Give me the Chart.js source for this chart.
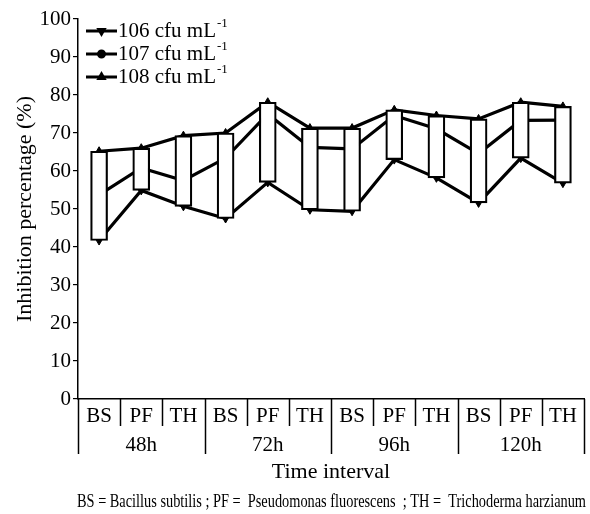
<!DOCTYPE html>
<html>
<head>
<meta charset="utf-8">
<script src="https://cdn.jsdelivr.net/npm/chart.js@4.4.0/dist/chart.umd.min.js"></script>
<style>
    html, body { margin: 0; padding: 0; background: #fff; }
</style>
</head>
<body>
<canvas id="chart" width="590" height="514"></canvas>
<script>
var categories = ["BS", "PF", "TH", "BS", "PF", "TH", "BS", "PF", "TH", "BS", "PF", "TH"];
var groups = ["48h", "72h", "96h", "120h"];
var seriesNames = ["106 cfu mL", "107 cfu mL", "108 cfu mL"];
var yTicks = [0, 10, 20, 30, 40, 50, 60, 70, 80, 90, 100];

// values
var s106 = [41.7, 54.9, 50.7, 47.5, 57.0, 49.8, 49.4, 63.0, 58.2, 51.6, 63.4, 56.8];
var s107 = [53.7, 60.8, 57.5, 63.4, 75.0, 66.2, 65.8, 74.6, 71.1, 64.6, 73.3, 73.4];
var s108 = [65.2, 66.0, 69.3, 70.0, 78.1, 71.3, 71.3, 76.1, 74.6, 73.7, 78.1, 77.0];

var FONT = "'Liberation Serif', 'Times New Roman', serif";

// up-down boxes between first and last series
var boxes = categories.map(function (c, i) {
    return [s106[i], s108[i]];
});

var markers = [
    { pointStyle: 'triangle', rotation: 180, radius: 4.5 },
    { pointStyle: 'circle', rotation: 0, radius: 3 },
    { pointStyle: 'triangle', rotation: 0, radius: 4.5 }
];

function lineSet(label, data, m) {
    return {
        type: 'line',
        label: label,
        data: data,
        borderColor: '#000',
        borderWidth: 3.2,
        pointStyle: m.pointStyle,
        rotation: m.rotation,
        pointRadius: m.radius,
        pointBackgroundColor: '#000',
        pointBorderColor: '#000',
        pointBorderWidth: 1,
        tension: 0,
        order: 1
    };
}

var decor = {
    id: 'decor',
    afterDraw: function (chart) {
        var ctx = chart.ctx;
        var x = chart.scales.x;
        var area = chart.chartArea;
        var step = (area.right - area.left) / categories.length;
        ctx.save();
        ctx.fillStyle = '#000';
        ctx.strokeStyle = '#000';

        // separators under the axis
        ctx.lineWidth = 1.5;
        for (var i = 0; i <= categories.length; i++) {
            var sx = Math.round(area.left + i * step) + 0.5;
            ctx.beginPath();
            ctx.moveTo(sx, area.bottom);
            ctx.lineTo(sx, i % 3 === 0 ? 454 : 426);
            ctx.stroke();
        }

        ctx.textAlign = 'center';
        ctx.textBaseline = 'middle';
        ctx.font = '21px ' + FONT;
        categories.forEach(function (c, i) {
            ctx.fillText(c, x.getPixelForValue(i), 416);
        });
        groups.forEach(function (g, k) {
            var gx = (x.getPixelForValue(k * 3) + x.getPixelForValue(k * 3 + 2)) / 2;
            ctx.fillText(g, gx, 445);
        });
        ctx.font = '22px ' + FONT;
        ctx.fillText('Time interval', (area.left + area.right) / 2, 472);

        // footnote, condensed to fit
        var note = 'BS = Bacillus subtilis ; PF =  Pseudomonas fluorescens  ; TH =  Trichoderma harzianum';
        ctx.font = '19px ' + FONT;
        var w = ctx.measureText(note).width;
        ctx.save();
        ctx.translate(77, 502);
        ctx.scale(509 / w, 1);
        ctx.textAlign = 'left';
        ctx.fillText(note, 0, 0);
        ctx.restore();

        // y title
        ctx.save();
        ctx.translate(25, (area.top + area.bottom) / 2);
        ctx.rotate(-Math.PI / 2);
        ctx.font = '22px ' + FONT;
        ctx.fillText('Inhibition percentage (%)', 0, 0);
        ctx.restore();

        // legend
        seriesNames.forEach(function (name, k) {
            var ly = 31 + k * 23;
            ctx.lineWidth = 3;
            ctx.beginPath();
            ctx.moveTo(86, ly);
            ctx.lineTo(117, ly);
            ctx.stroke();
            Chart.helpers.drawPoint(ctx, {
                pointStyle: markers[k].pointStyle,
                rotation: markers[k].rotation,
                radius: 3,
                borderWidth: 1
            }, 101.5, ly);
            ctx.textAlign = 'left';
            ctx.font = '21px ' + FONT;
            ctx.fillText(name, 118, ly);
            var nw = ctx.measureText(name).width;
            ctx.font = '13px ' + FONT;
            ctx.fillText('-1', 118 + nw + 1, ly - 7);
        });
        ctx.restore();
    }
};

new Chart(document.getElementById('chart'), {
    type: 'bar',
    data: {
        labels: categories,
        datasets: [
            {
                type: 'bar',
                label: 'range',
                data: boxes,
                backgroundColor: '#fff',
                borderColor: '#000',
                borderWidth: 2.2,
                borderSkipped: false,
                barThickness: 17,
                order: 0
            },
            lineSet(seriesNames[0], s106, markers[0]),
            lineSet(seriesNames[1], s107, markers[1]),
            lineSet(seriesNames[2], s108, markers[2])
        ]
    },
    options: {
        responsive: false,
        animation: false,
        devicePixelRatio: 1,
        layout: { padding: { top: 19, right: 6, left: 0, bottom: 0 } },
        plugins: {
            legend: { display: false },
            tooltip: { enabled: false }
        },
        scales: {
            x: {
                grid: { display: false },
                ticks: { display: false },
                border: { display: true, color: '#000', width: 1.5 },
                afterFit: function (s) { s.height = 115; }
            },
            y: {
                min: 0,
                max: 100,
                afterBuildTicks: function (s) {
                    s.ticks = yTicks.map(function (v) { return { value: v }; });
                },
                ticks: {
                    color: '#000',
                    padding: 2,
                    font: { family: FONT, size: 21 }
                },
                grid: {
                    drawOnChartArea: false,
                    drawTicks: true,
                    tickLength: 5,
                    color: '#000',
                    lineWidth: 1.2
                },
                border: { display: true, color: '#000', width: 1.5 },
                afterFit: function (s) { s.width = 78; }
            }
        }
    },
    plugins: [decor]
});
</script>
</body>
</html>
